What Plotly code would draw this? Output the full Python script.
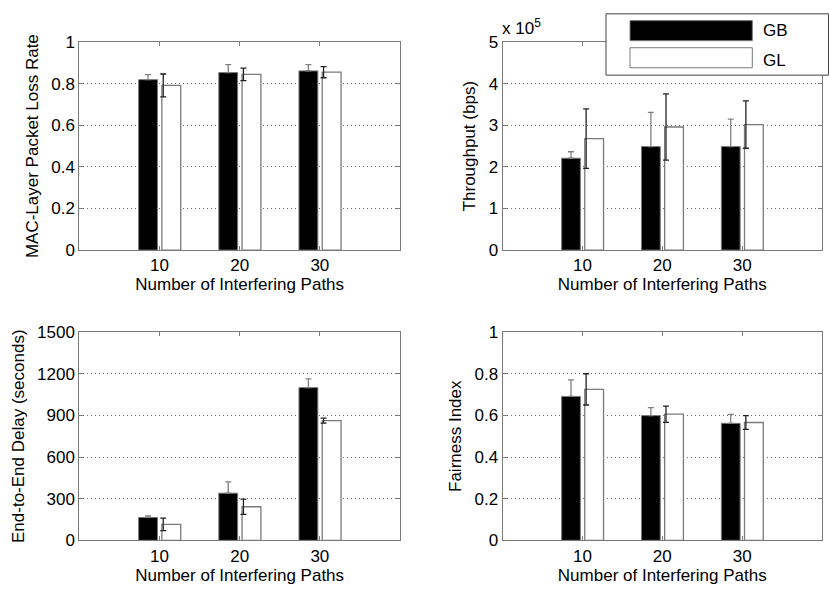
import plotly.graph_objects as go

# Number of interfering paths (x categories)
paths = [10, 20, 30]

# MAC-layer packet loss rate
loss_gb = [0.820, 0.854, 0.862]
loss_gb_err = [0.024, 0.038, 0.030]
loss_gl = [0.792, 0.845, 0.856]
loss_gl_err = [0.055, 0.030, 0.027]

# Throughput (bps)
thr_gb = [2.21e5, 2.49e5, 2.49e5]
thr_gb_err = [0.155e5, 0.82e5, 0.66e5]
thr_gl = [2.68e5, 2.96e5, 3.02e5]
thr_gl_err = [0.715e5, 0.795e5, 0.57e5]

# End-to-end delay (seconds)
delay_gb = [165, 340, 1100]
delay_gb_err = [12, 81, 63]
delay_gl = [115, 242, 862]
delay_gl_err = [45, 55, 18]

# Fairness index
fair_gb = [0.691, 0.599, 0.562]
fair_gb_err = [0.080, 0.038, 0.043]
fair_gl = [0.725, 0.606, 0.566]
fair_gl_err = [0.075, 0.039, 0.033]

series_names = ["GB", "GL"]

loss_ticks = [0, 0.2, 0.4, 0.6, 0.8, 1.0]
loss_ticktext = ["0", "0.2", "0.4", "0.6", "0.8", "1"]
thr_ticks = [0, 1e5, 2e5, 3e5, 4e5, 5e5]
thr_ticktext = ["0", "1", "2", "3", "4", "5"]
delay_ticks = [0, 300, 600, 900, 1200, 1500]
delay_ticktext = ["0", "300", "600", "900", "1200", "1500"]
fair_ticks = [0, 0.2, 0.4, 0.6, 0.8, 1.0]
fair_ticktext = ["0", "0.2", "0.4", "0.6", "0.8", "1"]

# ---- styling ----
W, H = 830, 598
FONT = "Liberation Sans, Arial, sans-serif"
FS = 17
AXIS_GREY = "#7a7a7a"
BAR_W = 2.35
GB_OFFSET = -2.6     # left edge of the GB bar relative to the group value
GL_OFFSET = 0.3      # left edge of the GL bar relative to the group value
GL_ERR_SHIFT = 0.47  # GL error bars sit near the left edge of their bar


def px_x(p):
    return p / W


def px_y(p):
    return 1 - p / H


dom_x = [[px_x(79.3), px_x(400)], [px_x(502.5), px_x(822)]]
dom_y_top = [px_y(249), px_y(34.3)]
dom_y_bot = [px_y(548.8), px_y(333.7)]

panels = [
    dict(gb=loss_gb, gbe=loss_gb_err, gl=loss_gl, gle=loss_gl_err,
         rng=[0, 1], tv=loss_ticks, tt=loss_ticktext,
         title="MAC-Layer Packet Loss Rate", dx=dom_x[0], dy=dom_y_top),
    dict(gb=thr_gb, gbe=thr_gb_err, gl=thr_gl, gle=thr_gl_err,
         rng=[0, 5e5], tv=thr_ticks, tt=thr_ticktext,
         title="Throughput (bps)", dx=dom_x[1], dy=dom_y_top),
    dict(gb=delay_gb, gbe=delay_gb_err, gl=delay_gl, gle=delay_gl_err,
         rng=[0, 1500], tv=delay_ticks, tt=delay_ticktext,
         title="End-to-End Delay (seconds)", dx=dom_x[0], dy=dom_y_bot),
    dict(gb=fair_gb, gbe=fair_gb_err, gl=fair_gl, gle=fair_gl_err,
         rng=[0, 1], tv=fair_ticks, tt=fair_ticktext,
         title="Fairness Index", dx=dom_x[1], dy=dom_y_bot),
]

fig = go.Figure()
layout = {}

for i, pnl in enumerate(panels):
    sfx = "" if i == 0 else str(i + 1)
    xa, ya = "x" + sfx, "y" + sfx

    # GB bars: the lower half of each error bar is hidden by the solid bar
    fig.add_trace(go.Bar(
        x=paths, y=pnl["gb"], width=BAR_W, offset=GB_OFFSET,
        name=series_names[0], showlegend=False,
        marker=dict(color="black", line=dict(color=AXIS_GREY, width=1)),
        error_y=dict(type="data", symmetric=False, array=pnl["gbe"],
                     arrayminus=[0] * len(paths), color="#808080",
                     thickness=1.3, width=3),
        xaxis=xa, yaxis=ya, hoverinfo="skip"))

    fig.add_trace(go.Bar(
        x=paths, y=pnl["gl"], width=BAR_W, offset=GL_OFFSET,
        name=series_names[1], showlegend=False,
        marker=dict(color="white", line=dict(color=AXIS_GREY, width=1.3)),
        xaxis=xa, yaxis=ya, hoverinfo="skip"))

    fig.add_trace(go.Scatter(
        x=[p + GL_ERR_SHIFT for p in paths], y=pnl["gl"], mode="markers",
        marker=dict(size=1, opacity=0), showlegend=False,
        error_y=dict(type="data", array=pnl["gle"], color="#222222",
                     thickness=1.3, width=3),
        xaxis=xa, yaxis=ya, hoverinfo="skip"))

    layout["xaxis" + sfx] = dict(
        domain=pnl["dx"], anchor=ya, range=[0, 40], tickvals=paths,
        ticks="inside", ticklen=4, tickcolor=AXIS_GREY,
        showline=True, linecolor=AXIS_GREY, linewidth=1, mirror="ticks",
        showgrid=False, zeroline=False,
        tickfont=dict(family=FONT, size=FS, color="black"),
        title=dict(text="Number of Interfering Paths", standoff=3,
                   font=dict(family=FONT, size=FS, color="black")),
    )
    layout["yaxis" + sfx] = dict(
        domain=pnl["dy"], anchor=xa, range=pnl["rng"],
        tickvals=pnl["tv"], ticktext=pnl["tt"],
        ticks="inside", ticklen=4, tickcolor=AXIS_GREY,
        showline=True, linecolor=AXIS_GREY, linewidth=1, mirror="ticks",
        showgrid=True, gridcolor="#6a6a6a", griddash="1px,3px", gridwidth=1,
        zeroline=False,
        tickfont=dict(family=FONT, size=FS, color="black"),
        title=dict(text=pnl["title"], standoff=8,
                   font=dict(family=FONT, size=FS, color="black")),
    )

# legend drawn as a box with wide swatches
shapes = [
    dict(type="rect", xref="paper", yref="paper",
         x0=px_x(606), x1=px_x(828.5), y0=px_y(68.3), y1=px_y(5),
         fillcolor="white", line=dict(color="#444444", width=1), layer="above"),
    dict(type="rect", xref="paper", yref="paper",
         x0=px_x(630), x1=px_x(752.3), y0=px_y(32.7), y1=px_y(12),
         fillcolor="black", line=dict(color=AXIS_GREY, width=1), layer="above"),
    dict(type="rect", xref="paper", yref="paper",
         x0=px_x(630), x1=px_x(752.3), y0=px_y(60.7), y1=px_y(40),
         fillcolor="white", line=dict(color=AXIS_GREY, width=1), layer="above"),
]
annotations = [
    dict(text=series_names[0], xref="paper", yref="paper", x=px_x(761),
         y=px_y(22), xanchor="left", yanchor="middle", showarrow=False,
         font=dict(family=FONT, size=FS, color="black")),
    dict(text=series_names[1], xref="paper", yref="paper", x=px_x(761),
         y=px_y(53), xanchor="left", yanchor="middle", showarrow=False,
         font=dict(family=FONT, size=FS, color="black")),
    dict(text="x 10<sup>5</sup>", xref="paper", yref="paper", x=px_x(500),
         y=px_y(19), xanchor="left", yanchor="middle", showarrow=False,
         font=dict(family=FONT, size=FS, color="black")),
]

fig.update_layout(
    width=W, height=H, autosize=False,
    margin=dict(l=0, r=0, t=0, b=0),
    paper_bgcolor="white", plot_bgcolor="white",
    barmode="overlay", showlegend=False,
    shapes=shapes, annotations=annotations,
    **layout,
)

fig.write_html("out.html")
